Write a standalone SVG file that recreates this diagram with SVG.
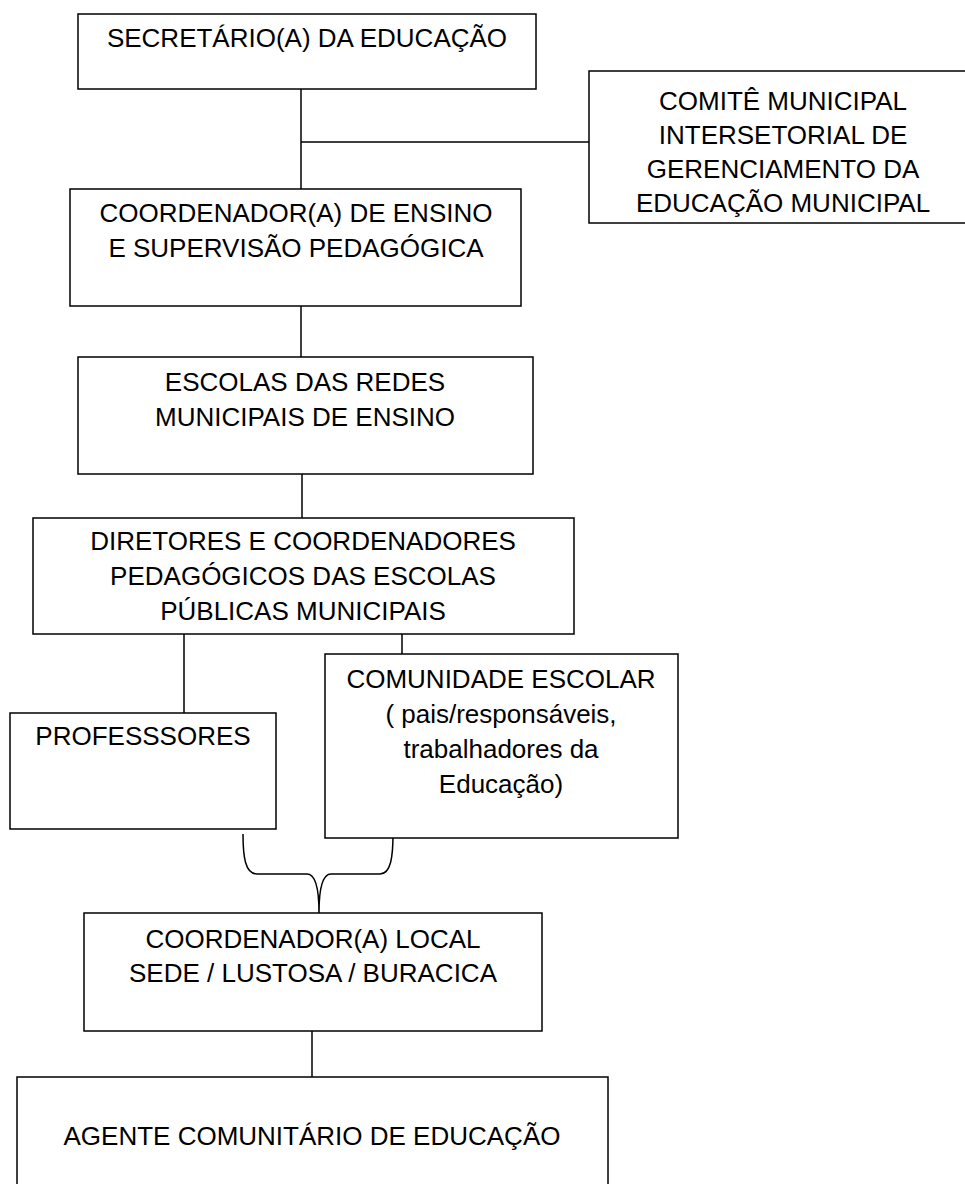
<svg xmlns="http://www.w3.org/2000/svg" width="965" height="1184" viewBox="0 0 965 1184">
<style>
.box{fill:#fff;stroke:#000;stroke-width:1.5}
.t{font-family:"Liberation Sans",Arial,sans-serif;font-size:26px;fill:#000;text-anchor:middle}
.c{fill:none;stroke:#000;stroke-width:1.5}
</style>
<rect width="965" height="1184" fill="#fff"/>
<g id="connectors">
<path class="c" d="M301 89 V189 M301 142 H589"/>
<path class="c" d="M301 306 V357"/>
<path class="c" d="M302 474 V518"/>
<path class="c" d="M184 634 V713 M402 634 V654"/>
<path class="c" d="M243 834 C243 856 245 874 257 874 L307 874 C316 874 319 890 319 913 M393 834 C393 856 391 874 380 874 L331 874 C322 874 319 890 319 913"/>
<path class="c" d="M312 1031 V1077"/>
</g>
<g id="secretario">
<rect class="box" x="78" y="14" width="458" height="75"/>
<text class="t" x="307" y="47">SECRETÁRIO(A) DA EDUCAÇÃO</text>
</g>
<g id="comite">
<rect class="box" x="589" y="71" width="390" height="152"/>
<text class="t" x="783" y="110">COMITÊ MUNICIPAL</text>
<text class="t" x="783" y="144">INTERSETORIAL DE</text>
<text class="t" x="783" y="178">GERENCIAMENTO DA</text>
<text class="t" x="783" y="212">EDUCAÇÃO MUNICIPAL</text>
</g>
<g id="coordenador-ensino">
<rect class="box" x="70" y="189" width="451" height="117"/>
<text class="t" x="296" y="222">COORDENADOR(A) DE ENSINO</text>
<text class="t" x="296" y="257">E SUPERVISÃO PEDAGÓGICA</text>
</g>
<g id="escolas">
<rect class="box" x="78" y="357" width="455" height="117"/>
<text class="t" x="305" y="391">ESCOLAS DAS REDES</text>
<text class="t" x="305" y="426">MUNICIPAIS DE ENSINO</text>
</g>
<g id="diretores">
<rect class="box" x="33" y="518" width="541" height="116"/>
<text class="t" x="303" y="550">DIRETORES E COORDENADORES</text>
<text class="t" x="303" y="585">PEDAGÓGICOS DAS ESCOLAS</text>
<text class="t" x="303" y="620">PÚBLICAS MUNICIPAIS</text>
</g>
<g id="professores">
<rect class="box" x="10" y="713" width="266" height="116"/>
<text class="t" x="143" y="745">PROFESSSORES</text>
</g>
<g id="comunidade">
<rect class="box" x="325" y="654" width="353" height="184"/>
<text class="t" x="501" y="688">COMUNIDADE ESCOLAR</text>
<text class="t" x="501" y="723">( pais/responsáveis,</text>
<text class="t" x="501" y="758">trabalhadores da</text>
<text class="t" x="501" y="793">Educação)</text>
</g>
<g id="coordenador-local">
<rect class="box" x="84" y="913" width="458" height="118"/>
<text class="t" x="313" y="948">COORDENADOR(A) LOCAL</text>
<text class="t" x="313" y="982">SEDE / LUSTOSA / BURACICA</text>
</g>
<g id="agente">
<rect class="box" x="17" y="1077" width="591" height="120"/>
<text class="t" x="312" y="1145">AGENTE COMUNITÁRIO DE EDUCAÇÃO</text>
</g>
</svg>
